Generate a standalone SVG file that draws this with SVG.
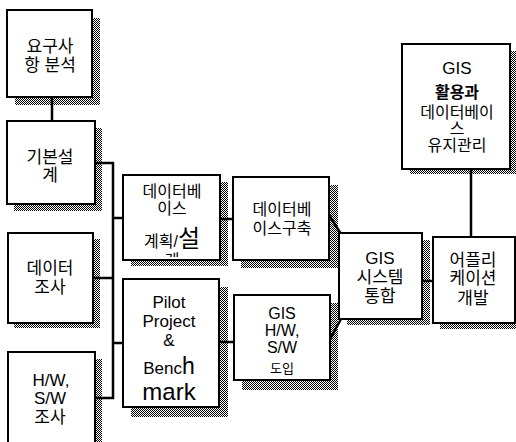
<svg xmlns="http://www.w3.org/2000/svg" width="516" height="442" viewBox="0 0 516 442">
<defs>
<pattern id="dots" width="2" height="2" patternUnits="userSpaceOnUse">
<rect width="2" height="2" fill="#fff"/>
<rect width="1" height="1" fill="#000"/>
<rect x="1" y="1" width="1" height="1" fill="#000"/>
</pattern>
<clipPath id="clipDB"><rect x="123" y="175" width="97" height="82"/></clipPath>
</defs>
<style>
.box{fill:#fff;stroke:#000;stroke-width:2}
.sh{fill:url(#dots);stroke:none}
.t{font-family:"Liberation Sans","Noto Sans CJK KR",sans-serif;font-size:16px;fill:#000;text-anchor:middle}
.c{fill:none;stroke:#000;stroke-width:2.5}
</style>
<rect width="516" height="442" fill="#fff"/>
<g id="shadows">
<path class="sh" d="M93,18 H100 V105 H15 V98 H93 Z"/>
<path class="sh" d="M96,128 H102 V211 H14 V205 H96 Z"/>
<path class="sh" d="M94,239 H100 V328 H14 V324 H94 Z"/>
<path class="sh" d="M96,359 H102 V442 H96 Z"/>
<path class="sh" d="M221,182 H228 V266 H131 V261 H221 Z"/>
<path class="sh" d="M220,287 H228 V417 H131 V408 H220 Z"/>
<path class="sh" d="M330,185 H338 V268 H241 V261 H330 Z"/>
<path class="sh" d="M331,303 H338 V390 H242 V381 H331 Z"/>
<path class="sh" d="M423,240 H430 V325 H347 V320 H423 Z"/>
<path class="sh" d="M440,324 H516 V329 H440 Z"/>
<path class="sh" d="M511,51 H516 V174 H410 V170 H511 Z"/>
</g>
<g id="connectors">
<line class="c" x1="52" y1="97" x2="52" y2="121"/>
<polyline class="c" points="95,163 113,163 113,398 95,398"/>
<line class="c" x1="93" y1="278" x2="113" y2="278"/>
<line class="c" x1="113" y1="218" x2="123" y2="218"/>
<line class="c" x1="113" y1="343" x2="123" y2="343"/>
<line class="c" x1="220" y1="219" x2="233" y2="219"/>
<line class="c" x1="219" y1="342" x2="234" y2="342"/>
<line class="c" x1="329" y1="215" x2="341" y2="234"/>
<line class="c" x1="329" y1="341" x2="341" y2="319"/>
<line class="c" x1="422" y1="281" x2="433" y2="281"/>
<line class="c" x1="471" y1="169" x2="471" y2="237"/>
</g>
<g id="n1">
<rect class="box" x="7" y="10" width="85" height="87"/>
<text class="t" x="50" y="52" style="font-size:17px">요구사</text>
<text class="t" x="50" y="71" style="font-size:17px">항 분석</text>
</g>
<g id="n2">
<rect class="box" x="7" y="121" width="88" height="83"/>
<text class="t" x="50" y="163" style="font-size:17px">기본설</text>
<text class="t" x="50" y="181" style="font-size:17px">계</text>
</g>
<g id="n3">
<rect class="box" x="8" y="233" width="85" height="90"/>
<text class="t" x="50" y="274" style="font-size:17px">데이터</text>
<text class="t" x="50" y="293" style="font-size:17px">조사</text>
</g>
<g id="n4">
<rect class="box" x="8" y="352" width="87" height="92"/>
<text class="t" x="51" y="386" style="font-size:17px">H/W,</text>
<text class="t" x="50" y="404" style="font-size:17px">S/W</text>
<text class="t" x="50" y="423" style="font-size:17px">조사</text>
</g>
<g id="n5">
<rect class="box" x="123" y="175" width="97" height="85"/>
<text class="t" x="172" y="197">데이터베</text>
<text class="t" x="172" y="214">이스</text>
<text class="t" x="172" y="247">계획/<tspan style="font-size:24px">설</tspan></text>
<text class="t" x="172" y="266" clip-path="url(#clipDB)">계</text>
</g>
<g id="n6">
<rect class="box" x="123" y="279" width="96" height="128"/>
<text class="t" x="169" y="308" style="font-size:17px">Pilot</text>
<text class="t" x="169" y="327" style="font-size:17px">Project</text>
<text class="t" x="169" y="346" style="font-size:17px">&amp;</text>
<text class="t" x="169" y="374" style="font-size:17px">Benc<tspan style="font-size:23px">h</tspan></text>
<text class="t" x="169" y="400" style="font-size:24px">mark</text>
</g>
<g id="n7">
<rect class="box" x="233" y="177" width="96" height="83"/>
<text class="t" x="282" y="215">데이터베</text>
<text class="t" x="282" y="234">이스구축</text>
</g>
<g id="n8">
<rect class="box" x="234" y="295" width="96" height="85"/>
<text class="t" x="282" y="319" style="font-size:16px">GIS</text>
<text class="t" x="282" y="336" style="font-size:16px">H/W,</text>
<text class="t" x="282" y="353" style="font-size:16px">S/W</text>
<text class="t" x="282" y="373" style="font-size:13px">도입</text>
</g>
<g id="n9">
<rect class="box" x="339" y="233" width="83" height="86"/>
<text class="t" x="380" y="264" style="font-size:17px">GIS</text>
<text class="t" x="380" y="283" style="font-size:17px">시스템</text>
<text class="t" x="380" y="302" style="font-size:17px">통합</text>
</g>
<g id="n10">
<rect class="box" x="433" y="237" width="82" height="86"/>
<text class="t" x="473" y="266" style="font-size:17px">어플리</text>
<text class="t" x="473" y="284" style="font-size:17px">케이션</text>
<text class="t" x="473" y="304" style="font-size:17px">개발</text>
</g>
<g id="n11">
<rect class="box" x="402" y="44" width="108" height="125"/>
<text class="t" x="457" y="74" style="font-size:17px">GIS</text>
<text class="t" x="457" y="98" style="font-weight:bold">활용과</text>
<text class="t" x="457" y="118">데이터베이</text>
<text class="t" x="457" y="134">스</text>
<text class="t" x="457" y="151">유지관리</text>
</g>
</svg>
